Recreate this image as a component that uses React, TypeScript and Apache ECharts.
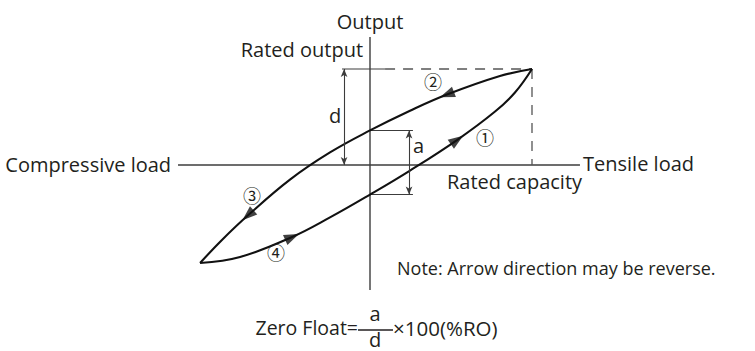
import React, { useEffect, useRef } from "react";
import * as echarts from "echarts";

// ---------- data (x: load / rated capacity, y: output / rated output) ----------
// branch ② → ③ : load decreasing from the rated point to full compression
const unloadingBranch: [number, number][] = [
  [1, 1],
  [0.802, 0.927],
  [0.475, 0.734],
  [0.247, 0.565],
  [0, 0.36],
  [-0.247, 0.131],
  [-0.494, -0.152],
  [-0.753, -0.524],
  [-0.914, -0.781],
  [-1.049, -1.021],
];
// branch ④ → ① : load increasing from full compression back to the rated point
const loadingBranch: [number, number][] = [
  [-1.049, -1.021],
  [-0.802, -0.958],
  [-0.481, -0.75],
  [-0.247, -0.546],
  [0, -0.308],
  [0.247, -0.058],
  [0.537, 0.26],
  [0.772, 0.557],
  [0.895, 0.755],
  [1, 1],
];
const ratedPoint: [number, number] = [1, 1];
// index of the curve point that carries a direction arrow
const unloadingArrowIdx = [2, 7];
const loadingArrowIdx = [2, 6];
// index of the points where the branches cross the output axis (the "a" span)
const unloadingCrossIdx = 4;
const loadingCrossIdx = 4;
// axis extents
const loadAxisExtent: [number, number] = [-1.185, 1.296];
const outputAxisExtent: [number, number] = [-1.302, 1.333];
// circled step numbers and where they sit
const stepLabels = ["①", "②", "③", "④"];
const stepAnchors: [number, number][] = [
  [0.71, 0.292],
  [0.389, 0.875],
  [-0.728, -0.3125],
  [-0.58, -0.906],
];

// ---------- layout ----------
const W = 755;
const H = 351;
const ORIGIN_X = 370;
const ORIGIN_Y = 165;
const UNIT_X = 162;
const UNIT_Y = 96;

const TEXT = "#231f20";
const FONT = "'Open Sans', 'Noto Sans', sans-serif";
const CIRC_FONT = "'Noto Sans CJK JP', 'DejaVu Sans', sans-serif";

type Pt = [number, number];

const seg = (id: string, data: Pt[], color: string, width: number, type: any = "solid", z = 2) => ({
  id,
  type: "line",
  data,
  symbol: "none",
  showSymbol: false,
  silent: true,
  smooth: false,
  z,
  lineStyle: { color, width, type, cap: "butt" },
});

export default function App() {
  const ref = useRef<HTMLDivElement>(null);

  useEffect(() => {
    document.body.style.margin = "0";
    if (!ref.current) return;
    const chart = echarts.init(ref.current, null, { renderer: "svg", width: W, height: H });

    const aTop = unloadingBranch[unloadingCrossIdx][1];
    const aBot = loadingBranch[loadingCrossIdx][1];
    const dX = -0.16;
    const aX = 0.241;
    const extEnd = 0.265;
    const dashStart = 0.093;
    const fracY = -1.719;

    const curve = (id: string, data: Pt[]) => ({
      id,
      type: "line",
      data,
      symbol: "none",
      showSymbol: false,
      smooth: 0.4,
      silent: true,
      z: 3,
      lineStyle: { color: "#111", width: 2.1, join: "miter" },
    });

    const baseOption: any = {
      animation: false,
      grid: { left: 0, right: 0, top: 0, bottom: 0, containLabel: false },
      xAxis: { type: "value", min: -ORIGIN_X / UNIT_X, max: (W - ORIGIN_X) / UNIT_X, show: false },
      yAxis: { type: "value", min: -(H - ORIGIN_Y) / UNIT_Y, max: ORIGIN_Y / UNIT_Y, show: false },
      series: [
        seg("loadAxis", [[loadAxisExtent[0], 0], [loadAxisExtent[1], 0]], "#3c3c3c", 1.4),
        seg("outputAxis", [[0, outputAxisExtent[1]], [0, outputAxisExtent[0]]], "#3c3c3c", 1.4),
        seg("ratedExt", [[dX - 0.013, ratedPoint[1]], [dashStart, ratedPoint[1]]], "#3c3c3c", 1.1),
        seg("ratedDashH", [[dashStart, ratedPoint[1]], ratedPoint], "#555", 1.3, [10, 8]),
        seg("ratedDashV", [ratedPoint, [ratedPoint[0], 0]], "#555", 1.3, [10, 8]),
        seg("aExtTop", [[0, aTop], [extEnd, aTop]], "#3c3c3c", 1.1),
        seg("aExtBot", [[0, aBot], [extEnd, aBot]], "#3c3c3c", 1.1),
        seg("fracBar", [[-0.074, fracY], [0.142, fracY]], TEXT, 1.3),
        {
          id: "dims",
          type: "line",
          data: [],
          silent: true,
          markLine: {
            silent: true,
            symbol: ["arrow", "arrow"],
            symbolSize: [5, 8],
            label: { show: false },
            lineStyle: { color: "#3c3c3c", width: 1.1, type: "solid" },
            data: [
              [{ coord: [dX, ratedPoint[1]] }, { coord: [dX, 0] }],
              [{ coord: [aX, aTop] }, { coord: [aX, aBot] }],
            ],
          },
        },
        curve("unloading", unloadingBranch),
        curve("loading", loadingBranch),
      ],
    };
    chart.setOption(baseOption);

    const px = (p: Pt) => chart.convertToPixel({ gridIndex: 0 }, p) as number[];
    const arrowItem = (pts: Pt[], i: number) => {
      const a = px(pts[i - 1]);
      const b = px(pts[i + 1]);
      const ang = (Math.atan2(-(b[1] - a[1]), b[0] - a[0]) * 180) / Math.PI;
      return { value: pts[i], symbolRotate: ang - 90 };
    };
    const arrows = [
      ...unloadingArrowIdx.map((i) => arrowItem(unloadingBranch, i)),
      ...loadingArrowIdx.map((i) => arrowItem(loadingBranch, i)),
    ];

    const txt = (text: string, at: Pt, align: string, size: number, family = FONT) => {
      const p = px(at);
      return {
        type: "text",
        x: p[0],
        y: p[1],
        silent: true,
        z: 10,
        style: {
          text,
          fill: TEXT,
          font: `${size}px ${family}`,
          align,
          verticalAlign: "middle",
          textAlign: align,
          textVerticalAlign: "middle",
        },
      };
    };

    chart.setOption({
      series: [
        {
          id: "arrows",
          type: "scatter",
          data: arrows,
          symbol: "triangle",
          symbolSize: [11, 15],
          silent: true,
          z: 4,
          itemStyle: { color: "#111" },
        },
      ],
      graphic: [
        txt("Output", [0, 1.49], "center", 20),
        txt("Rated output", [-0.043, 1.198], "right", 20),
        txt("Compressive load", [-1.228, 0.01], "right", 20),
        txt("Tensile load", [1.315, 0.02], "left", 20),
        txt("Rated capacity", [1.309, -0.167], "right", 20),
        txt("d", [-0.215, 0.52], "center", 20),
        txt("a", [0.3, 0.2], "center", 20),
        txt("Note: Arrow direction may be reverse.", [0.167, -1.073], "left", 18),
        ...stepLabels.map((s, i) => txt(s, stepAnchors[i], "center", 18, CIRC_FONT)),
        txt("Zero Float=", [-0.074, fracY + 0.03], "right", 19.5),
        txt("a", [0.031, -1.542], "center", 20),
        txt("d", [0.031, -1.8125], "center", 20),
        txt("×100(%RO)", [0.142, fracY + 0.02], "left", 20.5),
      ],
    });

    return () => chart.dispose();
  }, []);

  return <div ref={ref} style={{ width: W, height: H }} />;
}
